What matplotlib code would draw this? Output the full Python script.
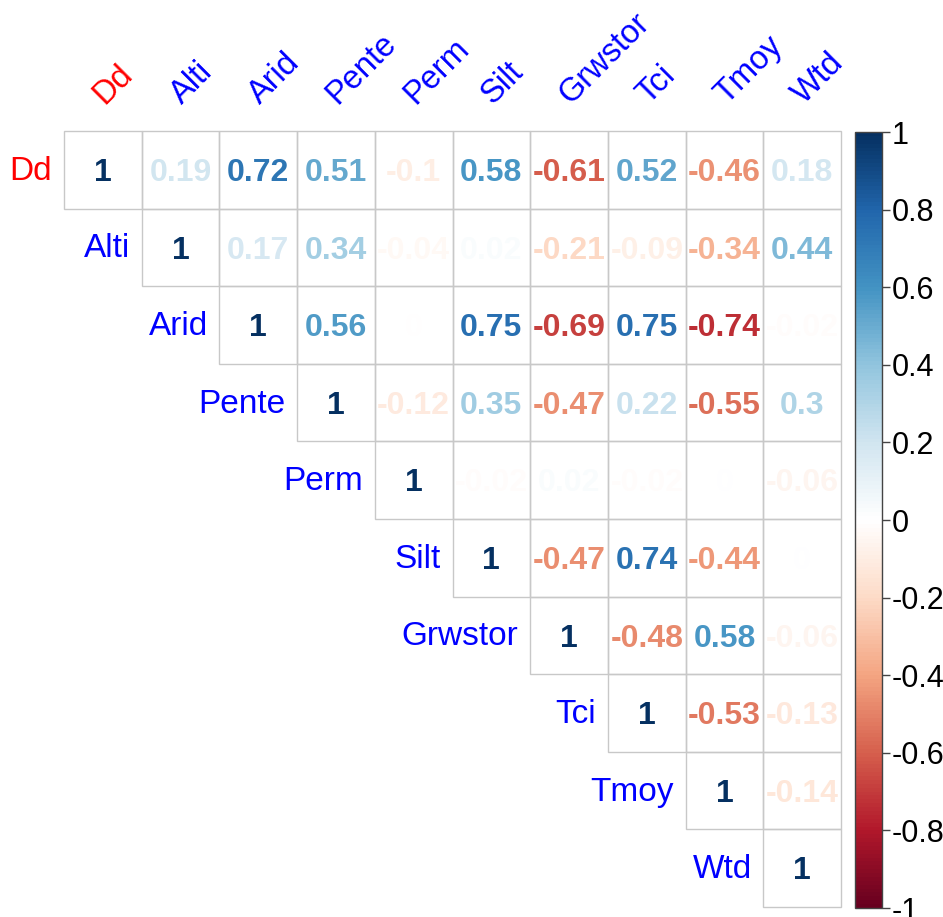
import numpy as np
import matplotlib
matplotlib.use("Agg")
import matplotlib.pyplot as plt
from matplotlib.colors import LinearSegmentedColormap, Normalize
from matplotlib.patches import Rectangle
from matplotlib.cm import ScalarMappable

plt.rcParams['font.family'] = ['Liberation Sans', 'DejaVu Sans']

variables = ["Dd", "Alti", "Arid", "Pente", "Perm", "Silt", "Grwstor", "Tci", "Tmoy", "Wtd"]
label_colors = ["red"] + ["blue"] * 9

# Upper-triangle correlations, one list per row starting at the diagonal
r_dd = [1, 0.19, 0.72, 0.51, -0.10, 0.58, -0.61, 0.52, -0.46, 0.18]
r_alti = [1, 0.17, 0.34, -0.04, 0.02, -0.21, -0.09, -0.34, 0.44]
r_arid = [1, 0.56, -0.004, 0.75, -0.69, 0.75, -0.74, -0.02]
r_pente = [1, -0.12, 0.35, -0.47, 0.22, -0.55, 0.30]
r_perm = [1, -0.02, 0.02, -0.02, 0.0, -0.06]
r_silt = [1, -0.47, 0.74, -0.44, 0.0]
r_grwstor = [1, -0.48, 0.58, -0.06]
r_tci = [1, -0.53, -0.13]
r_tmoy = [1, -0.14]
r_wtd = [1]
rows = [r_dd, r_alti, r_arid, r_pente, r_perm, r_silt, r_grwstor, r_tci, r_tmoy, r_wtd]

cbar_ticks = [-1, -0.8, -0.6, -0.4, -0.2, 0, 0.2, 0.4, 0.6, 0.8, 1]

cmap = LinearSegmentedColormap.from_list(
    "RdBu_corr",
    ["#67001F", "#B2182B", "#D6604D", "#F4A582", "#FDDBC7", "#FFFFFF",
     "#D1E5F0", "#92C5DE", "#4393C3", "#2166AC", "#053061"], N=200)
norm = Normalize(-1, 1)

W, H = 943, 917
fig = plt.figure(figsize=(W / 100, H / 100), dpi=100)

gx0, gx1, gy0, gy1 = 64, 841, 131, 907
ax = fig.add_axes([gx0 / W, 1 - gy1 / H, (gx1 - gx0) / W, (gy1 - gy0) / H])
n = len(variables)
ax.set_xlim(0, n)
ax.set_ylim(n, 0)
ax.axis("off")


def fmt(v):
    r = round(v, 2)
    if r == 0:
        return "0"
    return f"{r:g}"


for i, row in enumerate(rows):
    for k, v in enumerate(row):
        j = i + k
        ax.add_patch(Rectangle((j, i), 1, 1, fill=False, ec="#c8c8c8", lw=1.0,
                               clip_on=False))
        ax.text(j + 0.5, i + 0.54, fmt(v), ha="center", va="center",
                fontsize=23, fontweight="bold", color=cmap(norm(v)))
    # row label left of the diagonal cell
    ax.text(i - 0.15, i + 0.52, variables[i], ha="right", va="center",
            fontsize=24, color=label_colors[i])

# rotated column labels above the grid
for j, name in enumerate(variables):
    ax.text(j + 0.52, -0.33, name, ha="left", va="baseline", rotation=45,
            rotation_mode="anchor", fontsize=23.5, color=label_colors[j],
            clip_on=False)

# colour legend
cax = fig.add_axes([855 / W, 1 - 908 / H, 27 / W, (908 - 132) / H])
sm = ScalarMappable(norm=norm, cmap=cmap)
cb = fig.colorbar(sm, cax=cax, ticks=cbar_ticks)
cb.ax.set_yticklabels([fmt(t) for t in cbar_ticks])
cb.ax.tick_params(labelsize=22, length=6, width=1, color="#444444", pad=1)
cb.outline.set_edgecolor("#444444")
cb.outline.set_linewidth(1)

fig.savefig("out.png", dpi=100)
